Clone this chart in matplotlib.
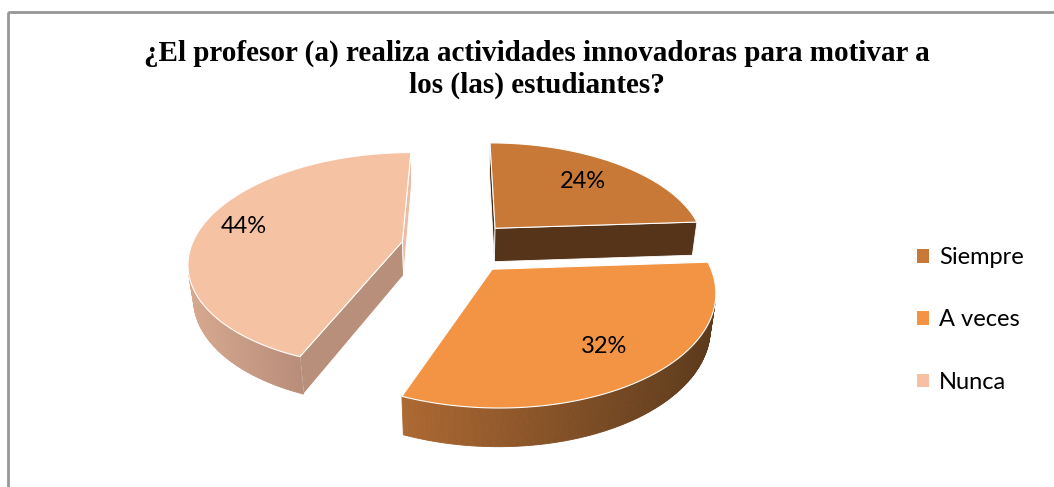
import numpy as np
import matplotlib
matplotlib.use('Agg')
import matplotlib.pyplot as plt
from matplotlib.patches import Polygon, Rectangle, Patch

# ---- data ----
categories = ['Siempre', 'A veces', 'Nunca']
values = [24, 32, 44]
pct_labels = ['24%', '32%', '44%']
title = '¿El profesor (a) realiza actividades innovadoras para motivar a\nlos (las) estudiantes?'

# ---- style ----
top_colors = ['#C87937', '#F29443', '#F6C2A4']
legend_colors = ['#C87937', '#F39343', '#F7C0A3']
wall_left = [(0.33, 0.20, 0.10), (172/255, 104/255, 50/255), (214/255, 168/255, 143/255)]
wall_right = [(0.33, 0.20, 0.10), (92/255, 58/255, 28/255), (184/255, 141/255, 121/255)]
cut_start = ['#4A2E16', '#5A381B', '#B88F7B']   # face at start angle
cut_end = ['#55341A', '#5A381B', '#E9BEA6']     # face at end angle
explode = [0.25, 0.25, 0.28]
label_r = [0.70, 0.75, 0.80]

W, H = 1054, 487
fig = plt.figure(figsize=(W / 100, H / 100), dpi=100)
ax = fig.add_axes([0, 0, 1, 1])
ax.set_xlim(0, W)
ax.set_ylim(H, 0)
ax.axis('off')

# frame
ax.add_patch(Rectangle((8, 12), W, H, fill=False, edgecolor='#969696', lw=2))

# ---- 3D projection ----
elev = np.radians(32)
Dcam = 5.0
S = 207.0
hgt = 0.19
cx = 460.0
ce, se = np.cos(elev), np.sin(elev)


def raw(x, y, z):
    depth = Dcam + y * ce - z * se
    return x * Dcam / depth, (y * se + z * ce) * Dcam / depth


cy = 247.0 + S * raw(0, 0, hgt)[1]
cam = np.array([0.0, -Dcam * ce, Dcam * se])


def proj(x, y, z):
    sx, sy = raw(x, y, z)
    return cx + S * sx, cy - S * sy


def visible(normal, point):
    return np.dot(normal, cam - np.asarray(point)) > 0


def lerp(c1, c2, t):
    return tuple(a + (b - a) * t for a, b in zip(c1, c2))


# slice angles (start at 12 o'clock, clockwise)
total = float(sum(values))
starts, ends = [], []
acc = 0.0
for v in values:
    a0 = 90.0 - acc / total * 360.0
    a1 = a0 - v / total * 360.0
    starts.append(a0)
    ends.append(a1)
    acc += v

draw_order = [0, 2, 1]
label_pos = {}
for i in draw_order:
    a0, a1 = np.radians(starts[i]), np.radians(ends[i])
    mid = (a0 + a1) / 2
    ox, oy = explode[i] * np.cos(mid), explode[i] * np.sin(mid)
    # cut faces
    for ang, nang, col in [(a0, a0 + np.pi / 2, cut_start[i]), (a1, a1 - np.pi / 2, cut_end[i])]:
        n = np.array([np.cos(nang), np.sin(nang), 0])
        ex, ey = ox + np.cos(ang), oy + np.sin(ang)
        pc = ((ox + ex) / 2, (oy + ey) / 2, hgt / 2)
        if visible(n, pc):
            pts = [proj(ox, oy, 0), proj(ox, oy, hgt), proj(ex, ey, hgt), proj(ex, ey, 0)]
            ax.add_patch(Polygon(pts, closed=True, facecolor=col, edgecolor='white', lw=0.6, zorder=2))
    # outer wall
    th = np.linspace(a0, a1, 200)
    strips = []
    for k in range(len(th) - 1):
        tm = (th[k] + th[k + 1]) / 2
        n = np.array([np.cos(tm), np.sin(tm), 0])
        p = (ox + np.cos(tm), oy + np.sin(tm), hgt / 2)
        if visible(n, p):
            q = [proj(ox + np.cos(th[k]), oy + np.sin(th[k]), 0),
                 proj(ox + np.cos(th[k + 1]), oy + np.sin(th[k + 1]), 0),
                 proj(ox + np.cos(th[k + 1]), oy + np.sin(th[k + 1]), hgt),
                 proj(ox + np.cos(th[k]), oy + np.sin(th[k]), hgt)]
            strips.append(q)
    if strips:
        xs = [np.mean([pt[0] for pt in q]) for q in strips]
        xmin, xmax = min(xs), max(xs)
        for q, xm in zip(strips, xs):
            t = 0 if xmax == xmin else (xm - xmin) / (xmax - xmin)
            c = lerp(wall_left[i], wall_right[i], t)
            ax.add_patch(Polygon(q, closed=True, facecolor=c, edgecolor=c, lw=0.6, zorder=2))
    # top face
    top = [proj(ox, oy, hgt)] + [proj(ox + np.cos(t), oy + np.sin(t), hgt) for t in th]
    ax.add_patch(Polygon(top, closed=True, facecolor=top_colors[i], edgecolor='white', lw=0.8, zorder=3))
    label_pos[i] = proj(ox + label_r[i] * np.cos(mid), oy + label_r[i] * np.sin(mid), hgt)

for i in range(len(values)):
    x, y = label_pos[i]
    ax.text(x, y, pct_labels[i], ha='center', va='center', fontsize=17,
            family='Lato', color='black', zorder=5)

ax.text(537, 69, title, ha='center', va='center', fontsize=21, fontweight='bold',
        family='Liberation Serif', linespacing=1.22)

handles = [Patch(facecolor=c, edgecolor='none') for c in legend_colors]
leg = ax.legend(handles, categories, loc='center left', bbox_to_anchor=(905 / W, 1 - 320 / H),
                frameon=False, prop={'family': 'Lato', 'size': 17}, handlelength=0.5,
                handleheight=0.5, handletextpad=0.45, labelspacing=1.75, borderpad=0)

fig.savefig('out.png', dpi=100)
